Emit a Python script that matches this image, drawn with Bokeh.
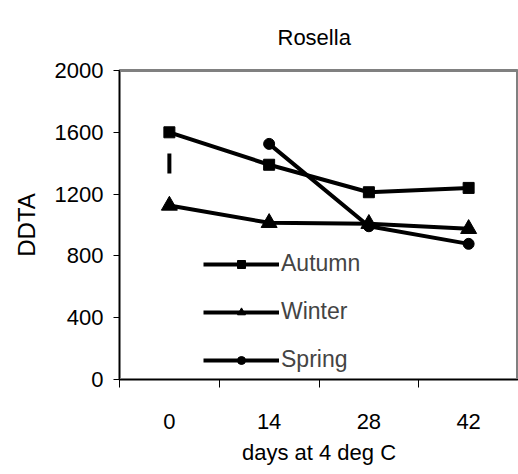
from bokeh.plotting import figure
from bokeh.models import FixedTicker, Legend, LegendItem, Range1d, Title
from bokeh.embed import file_html
from bokeh.resources import INLINE

days = ["0", "14", "28", "42"]
autumn = [1600, 1390, 1212, 1240]
winter = [1126, 1014, 1008, 975]
spring_days = ["14", "28", "42"]
spring = [1525, 992, 878]
mark_day = ["0"]
mark_low = [1333]
mark_high = [1463]
y_ticks = [0, 400, 800, 1200, 1600, 2000]

FONT = "Liberation Sans"

idx = {d: i for i, d in enumerate(days)}
xa = [idx[d] for d in days]
xs = [idx[d] for d in spring_days]
xm = [idx[d] for d in mark_day]

p = figure(width=518, height=474, output_backend="svg", toolbar_location=None,
           x_range=Range1d(-0.5, 3.5), y_range=Range1d(0, 2000),
           min_border_left=119, min_border_right=0, min_border_top=70, min_border_bottom=95,
           title=Title(text="Rosella", align="left", text_font=FONT, text_font_size="22px",
                       text_font_style="normal", text_color="black", standoff=42, offset=158))

p.outline_line_color = "#808080"
p.outline_line_width = 3
p.grid.visible = False
p.background_fill_color = "white"

# x axis
p.xaxis.ticker = FixedTicker(ticks=xa, minor_ticks=[i - 0.5 for i in range(len(days) + 1)])
p.xaxis.major_label_overrides = {i: d for i, d in enumerate(days)}
p.xaxis.major_tick_out = 0
p.xaxis.major_tick_in = 0
p.xaxis.minor_tick_out = 8
p.xaxis.minor_tick_in = 0
p.xaxis.minor_tick_line_color = "black"
p.xaxis.major_label_standoff = 26
p.xaxis.axis_label = "days at 4 deg C"
p.xaxis.axis_label_standoff = 8

# y axis
p.yaxis.ticker = FixedTicker(ticks=y_ticks, minor_ticks=[])
p.yaxis.major_tick_out = 6
p.yaxis.major_tick_in = 0
p.yaxis.major_label_standoff = 10
p.yaxis.axis_label = "DDTA"
p.yaxis.axis_label_standoff = 12

for ax in (p.xaxis, p.yaxis):
    ax.axis_line_color = "black"
    ax.major_tick_line_color = "black"
    ax.major_label_text_font = FONT
    ax.major_label_text_font_size = "22px"
    ax.major_label_text_color = "black"
    ax.axis_label_text_font = FONT
    ax.axis_label_text_font_style = "normal"
    ax.axis_label_text_color = "black"
p.xaxis.axis_label_text_font_size = "22px"
p.yaxis.axis_label_text_font_size = "24px"

# stray vertical mark at day 0
p.segment(x0=xm, y0=mark_low, x1=xm, y1=mark_high, line_color="black", line_width=4)

la = p.line(xa, autumn, line_color="black", line_width=4)
ma = p.scatter(xa, autumn, marker="square", size=11, color="black")
lw = p.line(xa, winter, line_color="black", line_width=4)
mw = p.scatter(xa, winter, marker="triangle", size=16, color="black")
ls = p.line(xs, spring, line_color="black", line_width=4)
ms = p.scatter(xs, spring, marker="circle", size=11, color="black")

legend = Legend(items=[
    LegendItem(label="Autumn", renderers=[la, ma]),
    LegendItem(label="Winter", renderers=[lw, mw]),
    LegendItem(label="Spring", renderers=[ls, ms]),
], location=(84, 6))
legend.border_line_color = None
legend.background_fill_color = "white"
legend.background_fill_alpha = 1
legend.label_text_font = FONT
legend.label_text_font_size = "23px"
legend.label_standoff = 2
legend.glyph_width = 76
legend.glyph_height = 20
legend.label_height = 20
legend.spacing = 21
legend.padding = 6
legend.margin = 0
p.add_layout(legend, "center")

open("out.html", "w").write(file_html(p, INLINE))
